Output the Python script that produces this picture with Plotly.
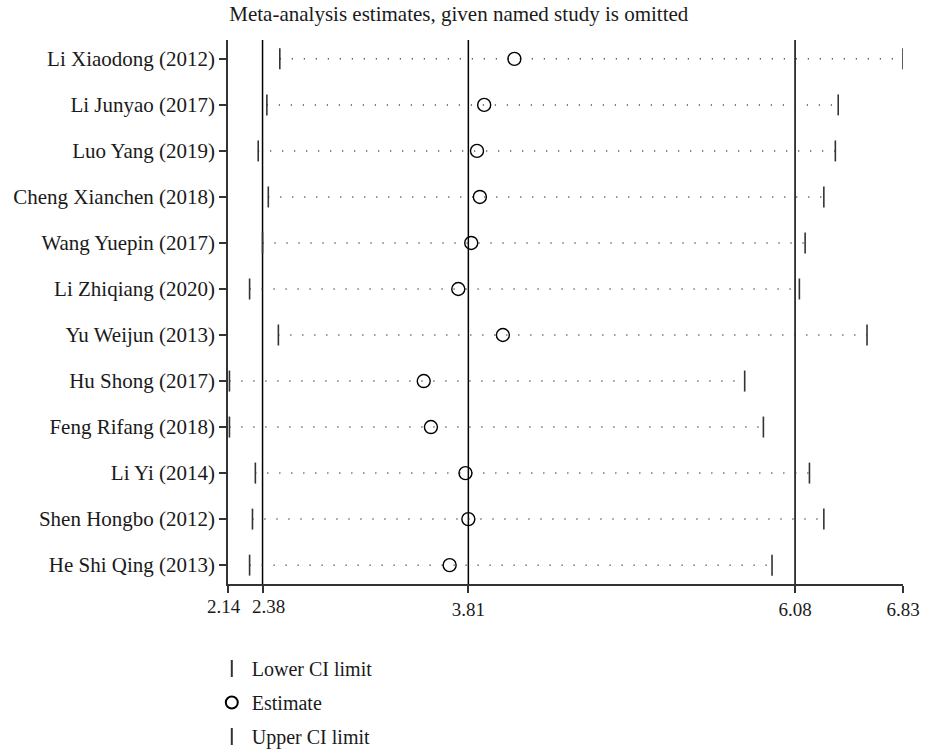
import plotly.graph_objects as go

studies = ["Li Xiaodong (2012)", "Li Junyao (2017)", "Luo Yang (2019)", "Cheng Xianchen (2018)",
           "Wang Yuepin (2017)", "Li Zhiqiang (2020)", "Yu Weijun (2013)", "Hu Shong (2017)",
           "Feng Rifang (2018)", "Li Yi (2014)", "Shen Hongbo (2012)", "He Shi Qing (2013)"]
lower = [2.50, 2.41, 2.35, 2.42, 2.38, 2.29, 2.49, 2.15, 2.15, 2.33, 2.31, 2.29]
estimate = [4.13, 3.92, 3.87, 3.89, 3.83, 3.74, 4.05, 3.50, 3.55, 3.79, 3.81, 3.68]
upper = [6.83, 6.38, 6.36, 6.28, 6.15, 6.11, 6.58, 5.73, 5.86, 6.18, 6.28, 5.92]
ref_lines = [2.38, 3.81, 6.08]
x_ticks = [2.14, 2.38, 3.81, 6.08, 6.83]
x_tick_text = ["2.14", "2.38", "3.81", "6.08", "6.83"]

FONT = "Liberation Serif"
INK = "#1a1a1a"

fig = go.Figure()

# dotted CI lines
lx, ly = [], []
for s, lo, hi in zip(studies, lower, upper):
    lx += [lo, hi, None]
    ly += [s, s, None]
fig.add_trace(go.Scatter(x=lx, y=ly, mode="lines", showlegend=False, hoverinfo="skip",
                         line=dict(color="#333333", width=1.5, dash="1px,11px")))

fig.add_trace(go.Scatter(x=lower, y=studies, mode="markers", name="Lower CI limit",
                         legendgroup="a",
                         marker=dict(symbol="line-ns-open", size=15, color="#333333",
                                     line=dict(color="#333333", width=1.6))))
fig.add_trace(go.Scatter(x=estimate, y=studies, mode="markers", name="Estimate",
                         legendgroup="b",
                         marker=dict(symbol="circle-open", size=13, color="black",
                                     line=dict(color="black", width=1.4))))
fig.add_trace(go.Scatter(x=upper, y=studies, mode="markers", name="Upper CI limit",
                         legendgroup="c",
                         marker=dict(symbol="line-ns-open", size=15, color="#333333",
                                     line=dict(color="#333333", width=1.6))))

for v in ref_lines:
    fig.add_shape(type="line", x0=v, x1=v, xref="x", y0=0, y1=1, yref="paper",
                  line=dict(color="black", width=1.5), layer="below")

# the two crowded tick labels on the left are nudged apart (as in the original)
nudges = [-4, 6]
axis_text = list(x_tick_text)
for i, dx in enumerate(nudges):
    fig.add_annotation(x=x_ticks[i], xref="x", y=0, yref="paper", yanchor="top",
                       xanchor="center", xshift=dx, yshift=-10, showarrow=False,
                       text=x_tick_text[i], font=dict(family=FONT, size=19, color=INK))
    axis_text[i] = ""

fig.update_layout(
    width=925, height=750,
    margin=dict(l=228, r=22, t=40, b=166, autoexpand=False),
    paper_bgcolor="white", plot_bgcolor="white",
    font=dict(family=FONT, size=20, color=INK),
    title=dict(text="Meta-analysis estimates, given named study is omitted",
               x=0.496, xanchor="center", y=0.992, yanchor="top",
               font=dict(family=FONT, size=21, color=INK)),
    xaxis=dict(range=[2.14, 6.83], tickvals=x_ticks, ticktext=axis_text,
               showgrid=False, zeroline=False, showline=True, linecolor="#333333", linewidth=1.5,
               ticks="outside", ticklen=7, tickwidth=1.5, tickcolor="#333333",
               tickangle=0, automargin=False, tickfont=dict(size=19)),
    yaxis=dict(type="category", categoryorder="array", categoryarray=studies,
               range=[11.41, -0.41], showgrid=False, zeroline=False, showline=True,
               linecolor="#333333", linewidth=1.5, ticks="outside", ticklen=7, tickwidth=1.5,
               tickcolor="#333333", automargin=False, tickfont=dict(size=21)),
    legend=dict(x=-0.024, xanchor="left", y=-0.1195, yanchor="top", orientation="v",
                font=dict(size=20), itemsizing="constant", tracegroupgap=5,
                bgcolor="rgba(0,0,0,0)"),
)

fig.write_html("out.html")
